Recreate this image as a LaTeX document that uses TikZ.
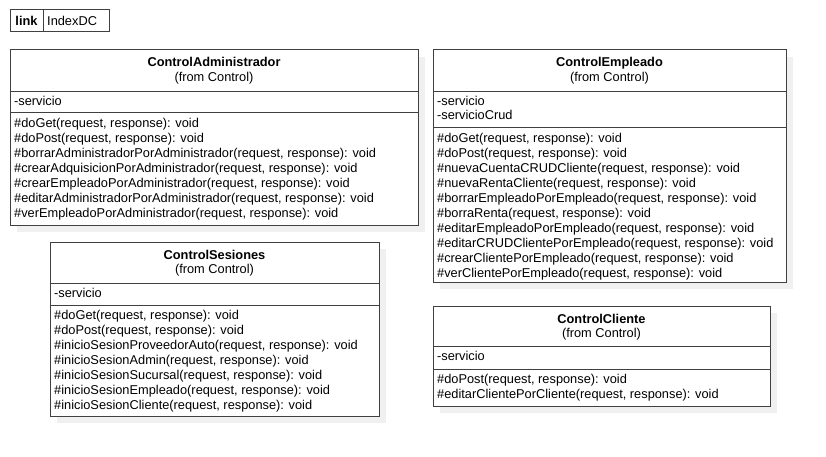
\documentclass[tikz,border=0pt]{standalone}
\usepackage{fontspec}
\setmainfont{Liberation Sans}
\newlength{\du}
\setlength{\du}{1pt}
\definecolor{shadowgray}{rgb}{0.941,0.941,0.941}
\definecolor{linegray}{rgb}{0.250,0.250,0.250}
\tikzset{
  classshadow/.style={fill=shadowgray,draw=none},
  classbox/.style={fill=white,draw=linegray,line width=1\du},
  sepline/.style={draw=linegray,line width=1\du},
  classname/.style={anchor=base,inner sep=0pt,font=\fontsize{12.8}{15}\selectfont\bfseries},
  fromtext/.style={anchor=base,inner sep=0pt},
  membertext/.style={anchor=base west,inner sep=0pt},
}
\begin{document}
\begin{tikzpicture}[x=\du,y=-\du,font=\fontsize{12.8}{15}\selectfont]
\useasboundingbox (0,0) rectangle (826,457);
% link
\draw[classbox] (10,10) rectangle (109,32);
\draw[sepline] (43,10) -- (43,32);
\node[classname] (link-key) at (26.5,25.5) {link};
\node[membertext] (link-val) at (47,25.5) {IndexDC};
% ControlAdministrador
\fill[classshadow] (17,57) rectangle (425,232);
\draw[classbox] (10,50) rectangle (418,225);
\draw[sepline] (10,92) -- (418,92);
\draw[sepline] (10,113) -- (418,113);
\node[classname] (adm-name) at (214,67) {ControlAdministrador};
\node[fromtext] (adm-from) at (214,81.5) {(from Control)};
\node[membertext] (adm-a0) at (14,105.5) {-servicio};
\foreach \m [count=\i from 0] in {{\#doGet(request, response): void},
  {\#doPost(request, response): void},
  {\#borrarAdministradorPorAdministrador(request, response): void},
  {\#crearAdquisicionPorAdministrador(request, response): void},
  {\#crearEmpleadoPorAdministrador(request, response): void},
  {\#editarAdministradorPorAdministrador(request, response): void},
  {\#verEmpleadoPorAdministrador(request, response): void}}
  \node[membertext] (adm-m\i) at (14,127.5+15*\i) {\m};
% ControlEmpleado
\fill[classshadow] (440,57) rectangle (793,289);
\draw[classbox] (433,50) rectangle (786,282);
\draw[sepline] (433,92) -- (786,92);
\draw[sepline] (433,128) -- (786,128);
\node[classname] (emp-name) at (609.5,67) {ControlEmpleado};
\node[fromtext] (emp-from) at (609.5,81.5) {(from Control)};
\node[membertext] (emp-a0) at (437,105.5) {-servicio};
\node[membertext] (emp-a1) at (437,119.5) {-servicioCrud};
\foreach \m [count=\i from 0] in {{\#doGet(request, response): void},
  {\#doPost(request, response): void},
  {\#nuevaCuentaCRUDCliente(request, response): void},
  {\#nuevaRentaCliente(request, response): void},
  {\#borrarEmpleadoPorEmpleado(request, response): void},
  {\#borraRenta(request, response): void},
  {\#editarEmpleadoPorEmpleado(request, response): void},
  {\#editarCRUDClientePorEmpleado(request, response): void},
  {\#crearClientePorEmpleado(request, response): void},
  {\#verClientePorEmpleado(request, response): void}}
  \node[membertext] (emp-m\i) at (437,142.5+15*\i) {\m};
% ControlSesiones
\fill[classshadow] (57,249) rectangle (386,423);
\draw[classbox] (50,242) rectangle (379,416);
\draw[sepline] (50,283) -- (379,283);
\draw[sepline] (50,305) -- (379,305);
\node[classname] (ses-name) at (214.5,259) {ControlSesiones};
\node[fromtext] (ses-from) at (214.5,273.5) {(from Control)};
\node[membertext] (ses-a0) at (54,297.5) {-servicio};
\foreach \m [count=\i from 0] in {{\#doGet(request, response): void},
  {\#doPost(request, response): void},
  {\#inicioSesionProveedorAuto(request, response): void},
  {\#inicioSesionAdmin(request, response): void},
  {\#inicioSesionSucursal(request, response): void},
  {\#inicioSesionEmpleado(request, response): void},
  {\#inicioSesionCliente(request, response): void}}
  \node[membertext] (ses-m\i) at (54,319.5+15*\i) {\m};
% ControlCliente
\fill[classshadow] (440,313) rectangle (777,413);
\draw[classbox] (433,306) rectangle (770,406);
\draw[sepline] (433,346) -- (770,346);
\draw[sepline] (433,369) -- (770,369);
\node[classname] (cli-name) at (601.5,323) {ControlCliente};
\node[fromtext] (cli-from) at (601.5,337.5) {(from Control)};
\node[membertext] (cli-a0) at (437,360.5) {-servicio};
\foreach \m [count=\i from 0] in {{\#doPost(request, response): void},
  {\#editarClientePorCliente(request, response): void}}
  \node[membertext] (cli-m\i) at (437,383.5+15*\i) {\m};
\end{tikzpicture}
\end{document}
